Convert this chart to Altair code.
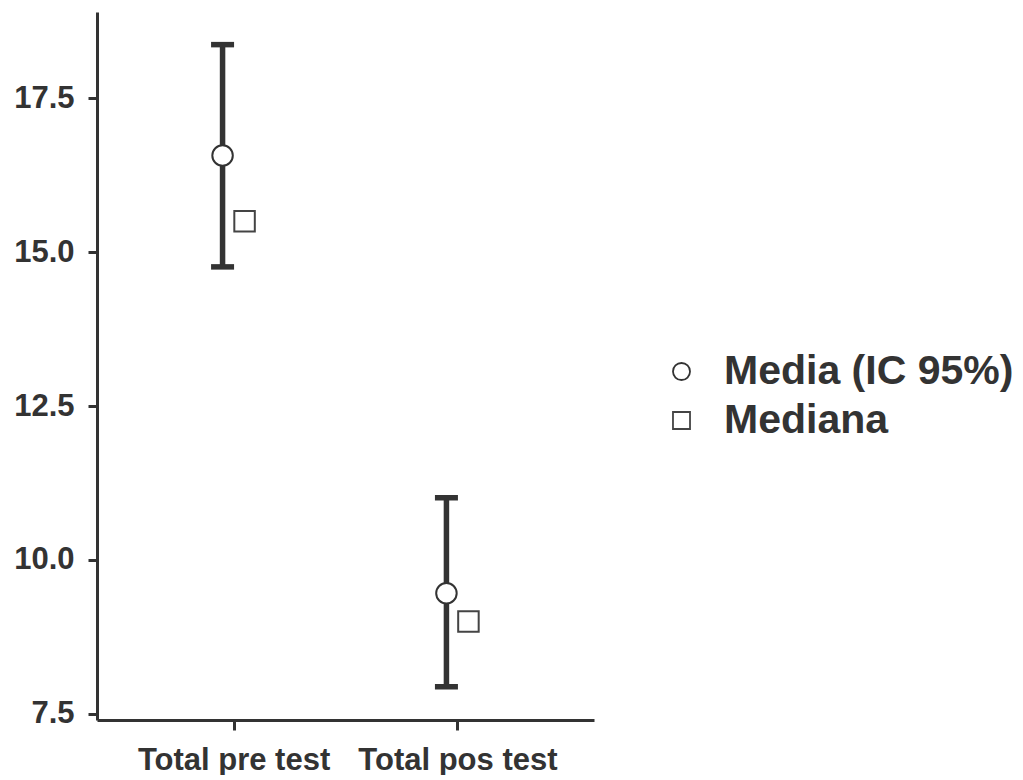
import altair as alt
import pandas as pd

categories = ["Total pre test", "Total pos test"]
series_names = ["Media (IC 95%)", "Mediana"]
mean_values = [16.57, 9.46]
ci_low = [14.76, 7.94]
ci_high = [18.37, 11.01]
median_values = [15.5, 9.0]
y_ticks = [7.5, 10.0, 12.5, 15.0, 17.5]

mean_df = pd.DataFrame({
    "category": categories,
    "series": [series_names[0]] * len(categories),
    "value": mean_values,
    "lo": ci_low,
    "hi": ci_high,
})
median_df = pd.DataFrame({
    "category": categories,
    "series": [series_names[1]] * len(categories),
    "value": median_values,
})
points_df = pd.concat([mean_df[["category", "series", "value"]], median_df], ignore_index=True)

INK = "#333333"
FONT = "Liberation Sans"

x_enc = alt.X("category:N", sort=categories,
              scale=alt.Scale(type="point", padding=0.61),
              axis=alt.Axis(title=None, labelAngle=0, labelFontSize=31, labelFont=FONT,
                            labelFontWeight="bold", labelLimit=500,
                            labelColor=INK, tickSize=10, tickWidth=3, tickColor=INK,
                            domainColor=INK, domainWidth=3, labelPadding=15))
xoff_enc = alt.XOffset("series:N", scale=alt.Scale(domain=series_names, range=[-22, 22]))
y_scale = alt.Scale(domain=[7.4, 18.9], nice=False, zero=False)
y_axis = alt.Axis(title=None, values=y_ticks, format=".1f", grid=False, labelFontSize=31,
                  labelFont=FONT, labelFontWeight="bold",
                  labelColor=INK, tickSize=9, tickWidth=3, tickColor=INK,
                  domainColor=INK, domainWidth=3, labelPadding=14)

rules = alt.Chart(mean_df).mark_rule(color=INK, strokeWidth=5.5).encode(
    x=x_enc, xOffset=xoff_enc,
    y=alt.Y("lo:Q", scale=y_scale, axis=y_axis), y2="hi:Q")

cap_lo = alt.Chart(mean_df).mark_tick(color=INK, size=23, thickness=5.5, opacity=1).encode(
    x=x_enc, xOffset=xoff_enc, y=alt.Y("lo:Q", scale=y_scale, axis=y_axis))
cap_hi = alt.Chart(mean_df).mark_tick(color=INK, size=23, thickness=5.5, opacity=1).encode(
    x=x_enc, xOffset=xoff_enc, y=alt.Y("hi:Q", scale=y_scale, axis=y_axis))

legend = alt.Legend(title=None, orient="none", legendX=564, legendY=339,
                    labelFontSize=41, labelFont=FONT, labelFontWeight="bold", labelColor=INK,
                    symbolSize=290, symbolStrokeWidth=1.8,
                    labelOffset=22, rowPadding=7, labelLimit=600, padding=0)

points = alt.Chart(points_df).mark_point(filled=False, opacity=1, strokeWidth=2, size=420).encode(
    x=x_enc, xOffset=xoff_enc,
    y=alt.Y("value:Q", scale=y_scale, axis=y_axis),
    shape=alt.Shape("series:N", scale=alt.Scale(domain=series_names, range=["circle", "square"]),
                    legend=legend),
    stroke=alt.Stroke("series:N", scale=alt.Scale(domain=series_names, range=[INK, "#444444"]),
                      legend=legend),
    fill=alt.Fill("series:N", scale=alt.Scale(domain=series_names, range=["white", "white"]),
                  legend=legend),
)

chart = alt.layer(rules, cap_lo, cap_hi, points).properties(
    width=497, height=708,
    background="white",
    padding={"left": 5, "top": 4, "right": 0, "bottom": 0},
).configure_view(strokeWidth=0)

chart.save("out.html", embed_options={"renderer": "svg", "actions": False})
